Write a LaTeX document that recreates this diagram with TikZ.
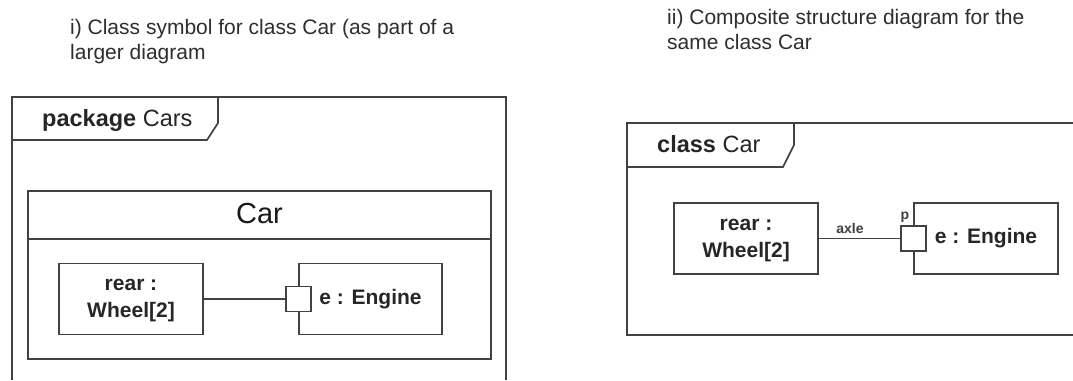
\documentclass[tikz,border=0pt]{standalone}
\usepackage{fontspec}
\setmainfont{Liberation Sans}
\begin{document}
\begin{tikzpicture}[x=1pt,y=-1pt,
  stroke/.style={draw=black!74, line width=1.7pt},
  caption/.style={anchor=north west, inner sep=0pt, align=left, text=black!82,
    font=\fontsize{21}{25}\selectfont},
  tagtext/.style={anchor=base west, inner sep=0pt, text=black!85,
    font=\fontsize{23.5}{27}\selectfont},
  part/.style={stroke, fill=white, minimum width=144pt, minimum height=71pt,
    inner sep=0pt, align=center, text=black!85,
    font=\bfseries\fontsize{21}{27}\selectfont},
  port/.style={stroke, fill=white, minimum size=25pt, inner sep=0pt},
  small/.style={inner sep=0pt, text=black!75, font=\bfseries\fontsize{14}{16}\selectfont},
]
\fill[white] (0,0) rectangle (1073,380);
\useasboundingbox (0,0) rectangle (1073,380);

% ---------- i) package Cars holding the class symbol of Car
\node[caption] (capL) at (70,19.5) {i) Class symbol for class Car (as part of a\\larger diagram};
\draw[stroke] (12,380) -- (12,97) -- (506,97) -- (506,380);
\draw[stroke] (12,140) -- (207,140) -- (218,123) -- (218,97);
\node[tagtext] (pkg) at (42,126) {\textbf{package} Cars};

\node[stroke, minimum width=463pt, minimum height=168pt, inner sep=0pt] (carbox) at (259.5,275) {};
\coordinate (divy) at (0,239);
\draw[stroke] (carbox.west |- divy) -- (carbox.east |- divy);
\node[inner sep=0pt, anchor=base, text=black!90, font=\fontsize{29}{34}\selectfont] (carname) at (259.5,223) {Car};

\node[part] (rearL) at (131,299) {\vphantom{Ag}rear :\\Wheel[2]};
\node[part, minimum width=143pt] (engL) at (370.5,299) {e : Engine};
\node[port] (portL) at (engL.west) {};
\draw[stroke] (rearL.east) -- (portL.west);

% ---------- ii) composite structure diagram of Car
\node[caption] (capR) at (667,9.5) {ii) Composite structure diagram for the\\same class Car};
\draw[stroke] (1073,123) -- (627,123) -- (627,335) -- (1073,335);
\draw[stroke] (627,167) -- (783,167) -- (794,145) -- (794,123);
\node[tagtext] (cls) at (657,152) {\textbf{class} Car};

\node[part] (rearR) at (746,238.5) {\vphantom{Ag}rear :\\Wheel[2]};
\node[part] (engR) at (986,238.5) {e : Engine};
\node[port] (portR) at (engR.west) {};
\draw[stroke] (rearR.east) -- (portR.west);
\node[small] (axle) at (850,228) {axle};
\node[small] (plabel) at (905,217) {p};
\end{tikzpicture}
\end{document}
